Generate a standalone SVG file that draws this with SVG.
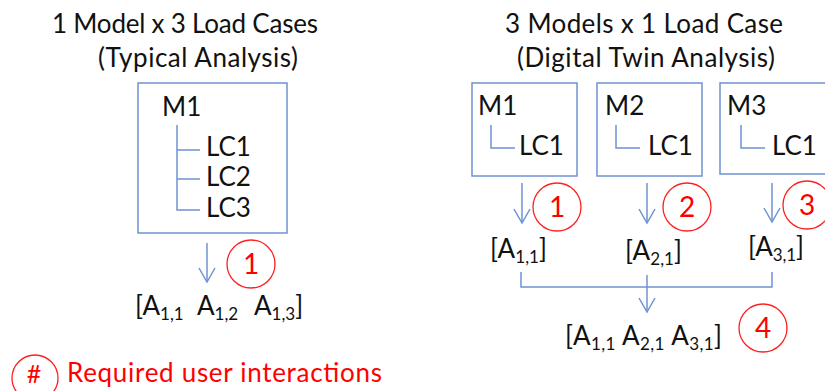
<svg xmlns="http://www.w3.org/2000/svg" width="825" height="391" viewBox="0 0 825 391">
<defs>
<style>
text{font-family:Lato,"Open Sans","Liberation Sans",sans-serif;fill:#111;font-size:26px}
.t{text-anchor:middle}
.r{fill:#ff0000}
.n{fill:#ff0000;text-anchor:middle;font-size:28px}
.box{fill:none;stroke:#6f93d2;stroke-width:1.5}
.ln{fill:none;stroke:#6f93d2;stroke-width:1.5}
.c{fill:none;stroke:#ff2020;stroke-width:1.3}
.s{font-size:17px}
</style>
<marker id="ah" markerUnits="userSpaceOnUse" markerWidth="18" markerHeight="18" refX="14" refY="8" orient="auto" viewBox="-1 -1 17 18">
<path d="M0,0 L14,8 L0,16" fill="none" stroke="#6f93d2" stroke-width="1.5"/>
</marker>
</defs>
<rect width="825" height="391" fill="#fff"/>
<g id="title-left">
<text class="t" x="185" y="33" textLength="266">1 Model x 3 Load Cases</text>
<text class="t" x="198" y="67" textLength="200">(Typical Analysis)</text>
</g>
<g id="title-right">
<text class="t" x="644" y="33" textLength="278">3 Models x 1 Load Case</text>
<text class="t" x="646" y="67" textLength="258">(Digital Twin Analysis)</text>
</g>
<g id="left-model">
<rect class="box" x="138" y="83" width="149" height="150"/>
<text x="162" y="116">M1</text>
<path class="ln" d="M177,125 V210 H200 M177,150 H200 M177,179 H200"/>
<text x="206" y="156">LC1</text>
<text x="206" y="186">LC2</text>
<text x="206" y="217">LC3</text>
</g>
<g id="right-m1">
<rect class="box" x="472" y="83" width="105" height="93"/>
<text x="478" y="115">M1</text>
<path class="ln" d="M491,125 V148 H515"/>
<text x="519" y="155">LC1</text>
</g>
<g id="right-m2">
<rect class="box" x="597" y="83" width="105" height="93"/>
<text x="605" y="115">M2</text>
<path class="ln" d="M616,125 V148 H640"/>
<text x="648" y="155">LC1</text>
</g>
<g id="right-m3">
<rect class="box" x="720" y="83" width="130" height="91"/>
<text x="727" y="115">M3</text>
<path class="ln" d="M741,125 V148 H765"/>
<text x="772" y="155">LC1</text>
</g>
<g id="connectors">
<path class="ln" d="M207,243 V282" marker-end="url(#ah)"/>
<path class="ln" d="M522,183 V223" marker-end="url(#ah)"/>
<path class="ln" d="M647,183 V223" marker-end="url(#ah)"/>
<path class="ln" d="M772,183 V222" marker-end="url(#ah)"/>
<path class="ln" d="M521,272 V287 H772 V272"/>
<path class="ln" d="M647,275 V312" marker-end="url(#ah)"/>
</g>
<g id="left-result">
<text x="135" y="315">[A<tspan class="s" dy="5">1,1</tspan></text>
<text x="197" y="315">A<tspan class="s" dy="5">1,2</tspan></text>
<text x="254" y="315">A<tspan class="s" dy="5">1,3</tspan><tspan dy="-5">]</tspan></text>
</g>
<g id="right-results">
<text x="490" y="258" textLength="57">[A<tspan class="s" dy="5">1,1</tspan><tspan dy="-5">]</tspan></text>
<text x="625" y="260" textLength="57">[A<tspan class="s" dy="5">2,1</tspan><tspan dy="-5">]</tspan></text>
<text x="748" y="256" textLength="56">[A<tspan class="s" dy="5">3,1</tspan><tspan dy="-5">]</tspan></text>
<text x="565" y="345" textLength="157">[A<tspan class="s" dy="5">1,1</tspan><tspan dy="-5"> A</tspan><tspan class="s" dy="5">2,1</tspan><tspan dy="-5"> A</tspan><tspan class="s" dy="5">3,1</tspan><tspan dy="-5">]</tspan></text>
</g>
<g id="markers">
<circle class="c" cx="251" cy="264" r="24"/><text class="n" x="251" y="274">1</text>
<circle class="c" cx="557" cy="207" r="24"/><text class="n" x="557" y="217">1</text>
<circle class="c" cx="687" cy="207" r="24"/><text class="n" x="687" y="217">2</text>
<circle class="c" cx="807" cy="205" r="24"/><text class="n" x="807" y="215">3</text>
<circle class="c" cx="763" cy="328" r="24"/><text class="n" x="763" y="338">4</text>
</g>
<g id="legend">
<circle class="c" cx="35" cy="378" r="23"/>
<text class="n" x="34" y="383" style="font-size:25px">#</text>
<text class="r" x="67" y="382" textLength="315">Required user interactions</text>
</g>
</svg>
